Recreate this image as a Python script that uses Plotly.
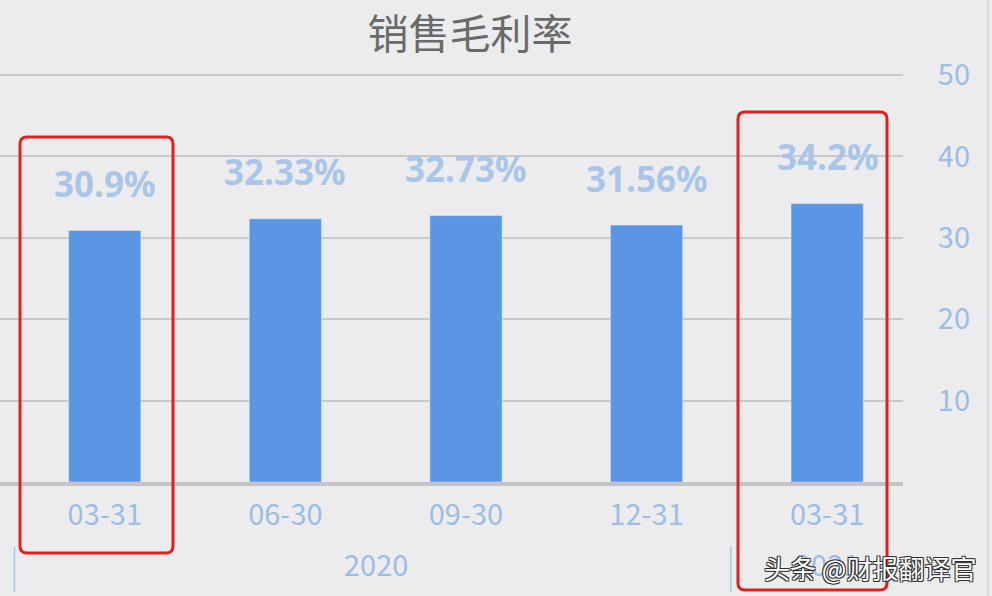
import plotly.graph_objects as go

W, H = 992, 596

# data
dates = ["03-31", "06-30", "09-30", "12-31", "03-31"]
years = ["2020", "2021"]
year_span = [4, 1]
margin = [30.9, 32.33, 32.73, 31.56, 34.2]
labels = ["30.9%", "32.33%", "32.73%", "31.56%", "34.2%"]
y_ticks = [10, 20, 30, 40, 50]
highlight = [0, 4]

x = list(range(len(dates)))
x_range = [-0.58, 4.42]
x_dom = [0, 903 / W]
# 0 sits at 482px, 50 at 75px; leave a little headroom so the 50 grid line shows
y_range = [0, 50.5]
ppu = (482 - 75) / 50
y_dom = [(H - 482) / H, (H - 482 + y_range[1] * ppu) / H]

BAR = "#5b96e4"
LBL = "#a9c6e8"
TICK = "#9dbde2"
CJK = "Noto Sans CJK SC"


def px_x(v):
    # data x -> paper x
    f = (v - x_range[0]) / (x_range[1] - x_range[0])
    return x_dom[0] + f * (x_dom[1] - x_dom[0])


def rounded(x0, y0, x1, y1, r=7):
    # pixel box -> rounded path in paper coords
    rx, ry = r / W, r / H
    a, b = x0 / W, x1 / W
    top, bot = 1 - y0 / H, 1 - y1 / H
    return (f"M{a + rx},{top} L{b - rx},{top} Q{b},{top} {b},{top - ry} "
            f"L{b},{bot + ry} Q{b},{bot} {b - rx},{bot} L{a + rx},{bot} "
            f"Q{a},{bot} {a},{bot + ry} L{a},{top - ry} Q{a},{top} {a + rx},{top} Z")


fig = go.Figure(go.Bar(x=x, y=margin, marker_color=BAR, width=0.4, hoverinfo="skip"))

ann = []
for i, v in enumerate(margin):
    ann.append(dict(x=i, y=v, text=labels[i], showarrow=False, yshift=47,
                    font=dict(family="Noto Sans", size=35, color=LBL, weight="bold")))

shapes = []
start = 0
for yr, n in zip(years, year_span):
    ann.append(dict(x=start + (n - 1) / 2, xref="x", y=1 - 563 / H, yref="paper",
                    xanchor="center", yanchor="middle",
                    text=yr, showarrow=False, font=dict(family=CJK, size=29, color=TICK)))
    shapes.append(dict(type="line", xref="paper", yref="paper",
                       x0=px_x(start - 0.5) - 6 / W * (start > 0),
                       x1=px_x(start - 0.5) - 6 / W * (start > 0),
                       y0=1 - 547 / H, y1=1 - 592 / H,
                       line=dict(color="#a9c6e8", width=1.5)))
    start += n

# red highlight boxes
boxes = {0: (20, 137, 173, 553), 4: (738, 112, 887, 590)}
for i in highlight:
    shapes.append(dict(type="path", xref="paper", yref="paper", path=rounded(*boxes[i]),
                       line=dict(color="#e0201c", width=3)))

# right frame edge
shapes.append(dict(type="line", xref="paper", yref="paper", x0=988 / W, x1=988 / W,
                   y0=0, y1=1, line=dict(color="#d6d6d8", width=1.5)))

# watermark
ann.append(dict(x=870 / W, y=1 - 567 / H, xref="paper", yref="paper", text="头条 @财报翻译官",
                xanchor="center", yanchor="middle", showarrow=False,
                font=dict(family=CJK, size=26, color="white",
                          shadow="-1px -1px 0 #333, 1px -1px 0 #333, -1px 1px 0 #333, 1px 1px 0 #333")))

fig.update_layout(
    width=W, height=H,
    margin=dict(l=0, r=0, t=0, b=0, autoexpand=False),
    paper_bgcolor="#ececee", plot_bgcolor="#ececee",
    showlegend=False,
    title=dict(text="销售毛利率", x=470 / W, y=1 - 35 / H, xanchor="center", yanchor="middle",
               font=dict(family=CJK, size=41, color="#6a6a6a")),
    xaxis=dict(range=x_range, domain=x_dom, tickvals=x, ticktext=dates,
               showgrid=False, zeroline=False, showline=True, linecolor="#c4c4c6", linewidth=4,
               ticks="outside", ticklen=4, tickcolor="rgba(0,0,0,0)", automargin=False,
               tickfont=dict(family=CJK, size=29, color=TICK)),
    yaxis=dict(range=y_range, domain=y_dom, side="right", tickvals=y_ticks,
               showgrid=True, gridcolor="#c9c9cb", gridwidth=1.5, zeroline=False,
               ticks="outside", ticklen=28, tickcolor="rgba(0,0,0,0)", automargin=False,
               tickfont=dict(family=CJK, size=29, color=TICK)),
    annotations=ann,
    shapes=shapes,
)

fig.write_html("out.html", config={"displayModeBar": False},
               post_script="document.body.style.margin='0';")
